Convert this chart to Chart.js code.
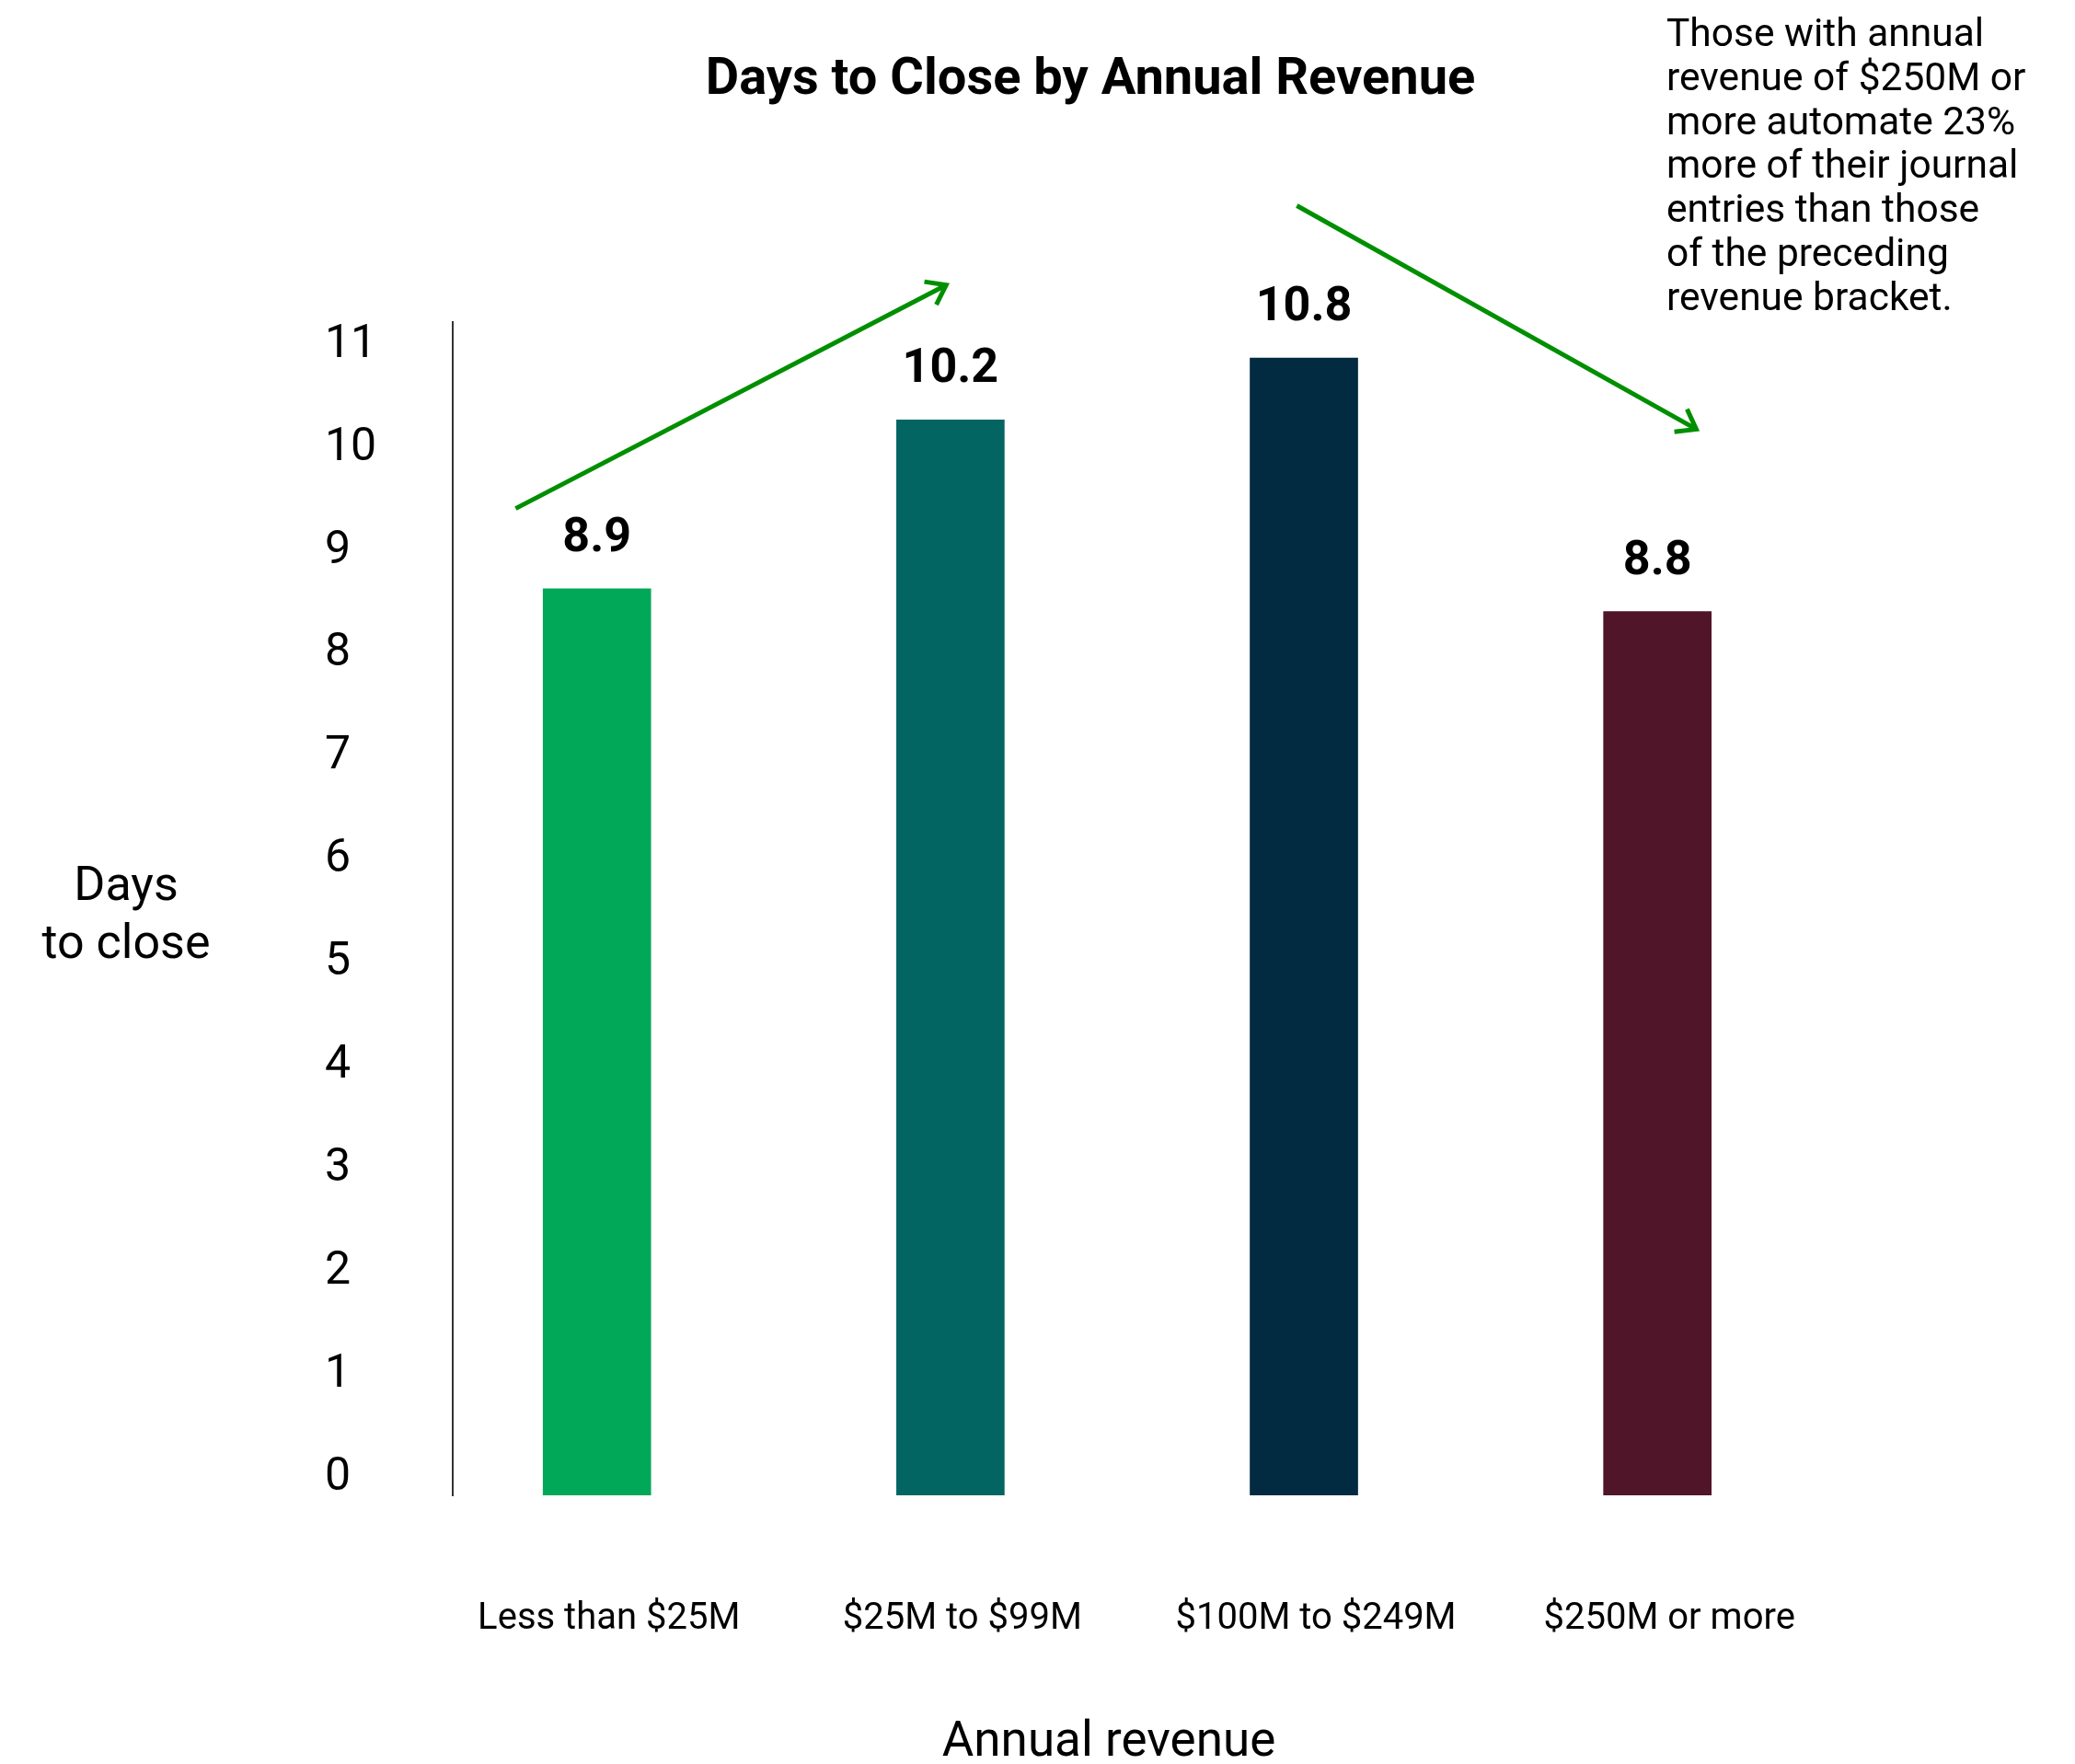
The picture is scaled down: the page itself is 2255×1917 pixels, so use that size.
<!DOCTYPE html>
<html>
<head>
<meta charset="utf-8">
<script src="https://cdn.jsdelivr.net/npm/chart.js@4"></script>
<style>
  html, body { margin: 0; padding: 0; background: #ffffff; }
  #wrap { width: 2255px; height: 1917px; }
</style>
</head>
<body>
<div id="wrap"><canvas id="c" width="2255" height="1917"></canvas></div>
<script>
// ---- data ----
const categories = ['Less than $25M', '$25M to $99M', '$100M to $249M', '$250M or more'];
const barValues = [8.59, 10.23, 10.83, 8.37];
const valueLabels = ['8.9', '10.2', '10.8', '8.8'];
const barColors = ['#00A857', '#036562', '#022A41', '#501528'];
const yTicks = [0, 1, 2, 3, 4, 5, 6, 7, 8, 9, 10, 11];
const chartTitle = 'Days to Close by Annual Revenue';
const yTitleLines = ['Days', 'to close'];
const xTitle = 'Annual revenue';
const noteLines = ['Those with annual', 'revenue of $250M or', 'more automate 23%', 'more of their journal', 'entries than those', 'of the preceding', 'revenue bracket.'];
// arrows in data units: [x index, y value]
const arrowFrom = [[-0.23, 9.37], [1.98, 12.31]];
const arrowTo = [[0.988, 11.54], [3.11, 10.14]];

const Y_MIN = -0.21, Y_MAX = 11.18;
const X_MIN = -0.408, X_MAX = 3.2;

const FONT = 'Roboto';

const overlay = {
  id: 'overlay',
  afterDatasetsDraw(chart) {
    const ctx = chart.ctx;
    const xs = chart.scales.x, ys = chart.scales.y;
    const area = chart.chartArea;
    ctx.save();
    // arrows
    ctx.strokeStyle = '#008F00';
    ctx.lineWidth = 5;
    ctx.lineCap = 'butt';
    for (let i = 0; i < arrowFrom.length; i++) {
      const x1 = xs.getPixelForValue(arrowFrom[i][0]);
      const y1 = ys.getPixelForValue(arrowFrom[i][1]);
      const x2 = xs.getPixelForValue(arrowTo[i][0]);
      const y2 = ys.getPixelForValue(arrowTo[i][1]);
      ctx.beginPath();
      ctx.moveTo(x1, y1);
      ctx.lineTo(x2, y2);
      ctx.stroke();
      const ang = Math.atan2(y2 - y1, x2 - x1);
      const L = 24, spread = 36 * Math.PI / 180;
      ctx.beginPath();
      ctx.moveTo(x2 - L * Math.cos(ang - spread), y2 - L * Math.sin(ang - spread));
      ctx.lineTo(x2, y2);
      ctx.lineTo(x2 - L * Math.cos(ang + spread), y2 - L * Math.sin(ang + spread));
      ctx.stroke();
    }
    // value labels
    const meta = chart.getDatasetMeta(0);
    ctx.fillStyle = '#000';
    ctx.font = 'bold 52px ' + FONT;
    ctx.textAlign = 'center';
    ctx.textBaseline = 'middle';
    meta.data.forEach((bar, i) => {
      ctx.fillText(valueLabels[i], bar.x, bar.y - 54);
    });
    // y axis title (horizontal, two lines)
    ctx.font = '52px ' + FONT;
    const midY = (area.top + area.bottom) / 2 + 8;
    ctx.fillText(yTitleLines[0], area.left - 355, midY - 31);
    ctx.fillText(yTitleLines[1], area.left - 355, midY + 32);
    // x axis title
    ctx.font = '53px ' + FONT;
    ctx.fillText(xTitle, (area.left + area.right) / 2 + 20, chart.height - 22);
    // note text
    ctx.font = '42.5px ' + FONT;
    ctx.textAlign = 'left';
    ctx.textBaseline = 'alphabetic';
    noteLines.forEach((t, i) => {
      ctx.fillText(t, area.right - 67, 50 + i * 47.8);
    });
    ctx.restore();
  }
};

new Chart(document.getElementById('c'), {
  type: 'bar',
  data: {
    datasets: [{
      data: barValues.map((v, i) => ({ x: i, y: v })),
      backgroundColor: barColors,
      borderWidth: 0,
      barThickness: 117,
      base: Y_MIN
    }]
  },
  options: {
    responsive: false,
    devicePixelRatio: 1,
    animation: false,
    layout: { padding: { left: 353, right: 377, top: 0, bottom: 0 } },
    plugins: {
      legend: { display: false },
      tooltip: { enabled: false },
      title: {
        display: true,
        text: chartTitle,
        fullSize: false,
        color: '#000',
        font: { family: FONT, size: 56, weight: 'bold', lineHeight: 1.2 },
        padding: { top: 54, bottom: 228.8 }
      }
    },
    scales: {
      x: {
        type: 'linear',
        offset: false,
        min: X_MIN,
        max: X_MAX,
        grid: { display: false, drawTicks: false, offset: false },
        border: { display: false },
        ticks: {
          color: '#000',
          font: { family: FONT, size: 40 },
          padding: 111,
          labelOffset: 13,
          autoSkip: false,
          maxRotation: 0,
          minRotation: 0,
          callback: (v) => (categories[v] !== undefined ? categories[v] : '')
        },
        afterBuildTicks: (s) => { s.ticks = categories.map((c, i) => ({ value: i })); },
        afterFit: (s) => { s.height = 292; },
        title: { display: false }
      },
      y: {
        type: 'linear',
        min: Y_MIN,
        max: Y_MAX,
        grid: { display: false, drawTicks: false },
        border: { display: true, color: '#333333', width: 2 },
        ticks: {
          color: '#000',
          font: { family: FONT, size: 50 },
          crossAlign: 'far',
          padding: 0,
          labelOffset: 5,
          callback: (v) => String(v)
        },
        afterBuildTicks: (s) => { s.ticks = yTicks.map(v => ({ value: v })); },
        afterFit: (s) => { s.width = 139; }
      }
    }
  },
  plugins: [overlay]
});
</script>
</body>
</html>
